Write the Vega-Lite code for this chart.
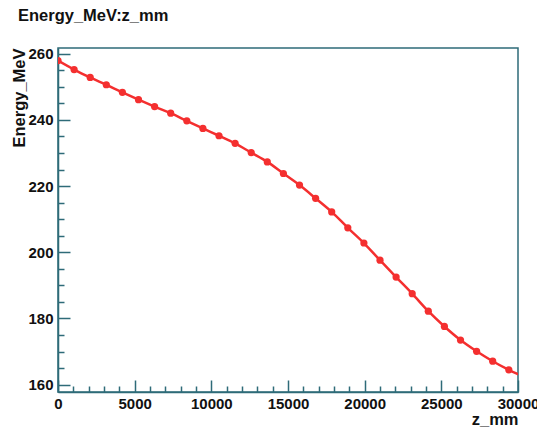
{
  "$schema": "https://vega.github.io/schema/vega-lite/v6.json",
  "width": 460,
  "height": 344,
  "autosize": {"type": "none"},
  "padding": {"left": 58, "top": 48, "right": 19, "bottom": 35},
  "background": "#ffffff",
  "title": {"text": "Energy_MeV:z_mm", "anchor": "start", "frame": "group", "dx": -40, "offset": 22, "font": "Liberation Sans", "fontSize": 16.5, "fontWeight": "bold", "color": "#111111"},
  "config": {
    "view": {"stroke": "#2e6b78", "strokeWidth": 1.5},
    "axis": {"labelFont": "Liberation Sans", "labelFontSize": 15, "labelFontWeight": "bold", "labelColor": "#111111", "titleFont": "Liberation Sans", "titleFontSize": 16.5, "titleFontWeight": "bold", "titleColor": "#111111", "domainColor": "#2e6b78", "domainWidth": 1.5, "tickColor": "#2e6b78", "tickWidth": 1.5, "grid": false, "labelFlush": false, "labelOverlap": false, "labelBound": false}
  },
  "data": {"values": [
    {"z": 0, "E": 257.9}, {"z": 1050, "E": 255.2}, {"z": 2100, "E": 252.8}, {"z": 3150, "E": 250.6},
    {"z": 4200, "E": 248.3}, {"z": 5250, "E": 246.1}, {"z": 6300, "E": 244.0}, {"z": 7350, "E": 242.0},
    {"z": 8400, "E": 239.7}, {"z": 9450, "E": 237.4}, {"z": 10500, "E": 235.2}, {"z": 11550, "E": 232.9},
    {"z": 12600, "E": 230.1}, {"z": 13650, "E": 227.3}, {"z": 14700, "E": 223.8}, {"z": 15750, "E": 220.3},
    {"z": 16800, "E": 216.3}, {"z": 17850, "E": 212.2}, {"z": 18900, "E": 207.4}, {"z": 19950, "E": 202.8},
    {"z": 21000, "E": 197.6}, {"z": 22050, "E": 192.5}, {"z": 23100, "E": 187.5}, {"z": 24150, "E": 182.2},
    {"z": 25200, "E": 177.6}, {"z": 26250, "E": 173.5}, {"z": 27300, "E": 170.1}, {"z": 28350, "E": 167.1},
    {"z": 29400, "E": 164.5}, {"z": 30450, "E": 162.2}
  ]},
  "resolve": {"axis": {"x": "independent", "y": "independent"}},
  "layer": [
    {
      "mark": {"type": "line", "color": "#f42f2f", "strokeWidth": 2.5, "interpolate": "monotone", "clip": true},
      "encoding": {
        "x": {"field": "z", "type": "quantitative", "scale": {"domain": [0, 30000], "nice": false, "zero": false},
              "axis": {"orient": "bottom", "values": [0, 5000, 10000, 15000, 20000, 25000, 30000], "format": "d", "tickSize": -12, "labelPadding": 16, "title": "z_mm", "titleAnchor": "end", "titlePadding": 0}},
        "y": {"field": "E", "type": "quantitative", "scale": {"domain": [157.8, 261.7], "nice": false, "zero": false},
              "axis": {"orient": "left", "values": [160, 180, 200, 220, 240, 260], "tickSize": -12, "labelPadding": 17, "title": "Energy_MeV", "titleAnchor": "end", "titlePadding": 0}}
      }
    },
    {
      "mark": {"type": "circle", "color": "#f42f2f", "size": 52, "opacity": 1, "clip": true},
      "encoding": {
        "x": {"field": "z", "type": "quantitative", "scale": {"domain": [0, 30000], "nice": false, "zero": false},
              "axis": {"orient": "bottom", "values": [1000, 2000, 3000, 4000, 6000, 7000, 8000, 9000, 11000, 12000, 13000, 14000, 16000, 17000, 18000, 19000, 21000, 22000, 23000, 24000, 26000, 27000, 28000, 29000], "tickSize": -6, "labels": false, "domain": false, "title": null}},
        "y": {"field": "E", "type": "quantitative", "scale": {"domain": [157.8, 261.7], "nice": false, "zero": false},
              "axis": {"orient": "left", "values": [165, 170, 175, 185, 190, 195, 205, 210, 215, 225, 230, 235, 245, 250, 255], "tickSize": -6, "labels": false, "domain": false, "title": null}}
      }
    }
  ]
}
